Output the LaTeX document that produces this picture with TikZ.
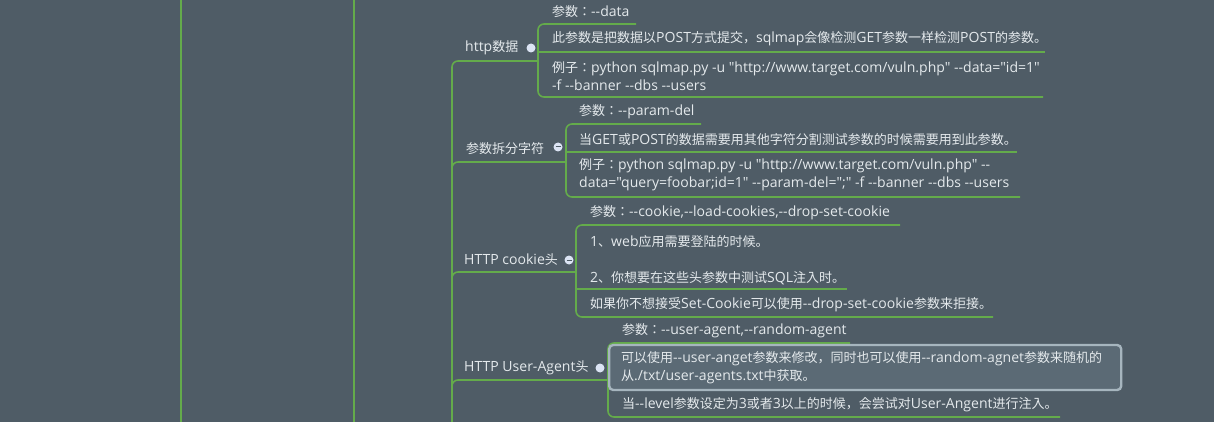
\documentclass[tikz,border=0pt]{standalone}
\usepackage{fontspec}
\setmainfont{Open Sans}[Ligatures=TeXOff, Scale=1.08]
\newfontfamily\cjkfont{Noto Sans CJK JP}[Ligatures=TeXOff]
\newfontfamily\latfont{Open Sans}[Ligatures=TeXOff, Scale=1.08]
% switch between the Latin and the CJK font automatically
\XeTeXinterchartokenstate=1
\count255="3000 \loop \XeTeXcharclass\count255=7 \advance\count255 by 1 \ifnum\count255<"3040 \repeat
\count255="4E00 \loop \XeTeXcharclass\count255=7 \advance\count255 by 1 \ifnum\count255<"A000 \repeat
\count255="FF00 \loop \XeTeXcharclass\count255=7 \advance\count255 by 1 \ifnum\count255<"FF60 \repeat
\XeTeXinterchartoks 0 7 = {\cjkfont}
\XeTeXinterchartoks 4095 7 = {\cjkfont}
\XeTeXinterchartoks 7 0 = {\latfont}
\XeTeXinterchartoks 7 4095 = {\latfont}
\usepackage{tikz}
\usetikzlibrary{positioning}
\definecolor{mapbg}{HTML}{4F5C66}
\definecolor{mapline}{HTML}{64AB4B}
\definecolor{maptext}{HTML}{E4E9EC}
\definecolor{mapdot}{HTML}{DCE4F4}
\definecolor{selfill}{HTML}{5B6A75}
\definecolor{selframe}{HTML}{A6B5BE}
\newcommand{\mapfont}{\fontsize{13pt}{18pt}\selectfont}

\begin{document}
\begin{tikzpicture}[x=1pt, y=-1pt,
    topic/.style={text=maptext, font=\mapfont, inner sep=0pt, anchor=west, align=left},
    mapedge/.style={draw=mapline, line width=1.6pt, rounded corners=6pt},
    dot/.style={circle, fill=mapdot, minimum size=9pt, inner sep=0pt},
    selbox/.style={draw=selframe, fill=selfill, line width=2.4pt, rounded corners=4pt,
        inner xsep=12pt, minimum height=45pt}]
    \fill[mapbg] (0,0) rectangle (1214,422);
    \useasboundingbox (0,0) rectangle (1214,422);
    % long lines on the left
    \draw[mapedge] (181,0) -- (181,422);
    \draw[mapedge] (354,0) -- (354,422);
    % trunk and joints
    \coordinate (trunk) at (452,422);
    \coordinate (j1) at (538,61);
    \coordinate (j2) at (566,162);
    \coordinate (j3) at (576,272);
    \coordinate (j4) at (608,380);
    \foreach \j in {j1,j2,j3,j4} {
        \draw[mapedge] (trunk) |- (\j);
    }
    % http data
    \node[topic] (httpdata) at (465,48) {http数据};
    \node[dot] (httpdata-dot) at (531,48) {};
    \draw[mapedge] (636,24) -| (j1) |- (1043,97);
    \draw[mapedge] (538,52) -- (1045,52);
    \node[topic] (dataopt) at (552,12) {参数：--data};
    \node[topic] (datainfo) at (552,39) {此参数是把数据以POST方式提交，sqlmap会像检测GET参数一样检测POST的参数。};
    \node[topic] (dataex) at (552,76) {例子：python sqlmap.py -u "http://www.target.com/vuln.php" --data="id=1"\\-f --banner --dbs --users};
    % param delimiter
    \node[topic] (paramdel) at (466,149) {参数拆分字符};
    \node[dot] (paramdel-dot) at (558,147) {};
    \draw[mapbg, line width=1pt] ([xshift=-2.5pt]paramdel-dot.center) -- ([xshift=2.5pt]paramdel-dot.center);
    \draw[mapedge] (701,124) -| (j2) |- (1020,197);
    \draw[mapedge] (566,152) -- (1017,152);
    \node[topic] (delopt) at (579,112) {参数：--param-del};
    \node[topic] (delinfo) at (579,140) {当GET或POST的数据需要用其他字符分割测试参数的时候需要用到此参数。};
    \node[topic] (delex) at (579,175) {例子：python sqlmap.py -u "http://www.target.com/vuln.php" --\\data="query=foobar;id=1" --param-del=";" -f --banner --dbs --users};
    % cookie
    \node[topic] (cookie) at (464,260) {HTTP cookie头};
    \node[dot] (cookie-dot) at (569,260) {};
    \draw[mapbg, line width=1pt] ([xshift=-2.5pt]cookie-dot.center) -- ([xshift=2.5pt]cookie-dot.center);
    \draw[mapedge] (900,225) -| (j3) |- (993,317);
    \draw[mapedge] (576,289) -- (847,289);
    \node[topic] (cookieopt) at (590,213) {参数：--cookie,--load-cookies,--drop-set-cookie};
    \node[topic] (cookiecase) at (590,260) {1、web应用需要登陆的时候。\\[18pt]2、你想要在这些头参数中测试SQL注入时。};
    \node[topic] (cookiedrop) at (590,305) {如果你不想接受Set-Cookie可以使用--drop-set-cookie参数来拒接。};
    % user agent
    \node[topic] (useragent) at (464,368) {HTTP User-Agent头};
    \node[dot] (useragent-dot) at (600,368) {};
    \draw[mapedge] (850,343) -| (j4) |- (1060,417);
    \node[topic] (uaopt) at (622,331) {参数：--user-agent,--random-agent};
    \node[topic, selbox, text width=488pt] (uainfo) at (608,367.5) {可以使用--user-anget参数来修改，同时也可以使用--random-agnet参数来随机的\\从./txt/user-agents.txt中获取。};
    \node[topic] (ualevel) at (622,405) {当--level参数设定为3或者3以上的时候，会尝试对User-Angent进行注入。};
\end{tikzpicture}
\end{document}
